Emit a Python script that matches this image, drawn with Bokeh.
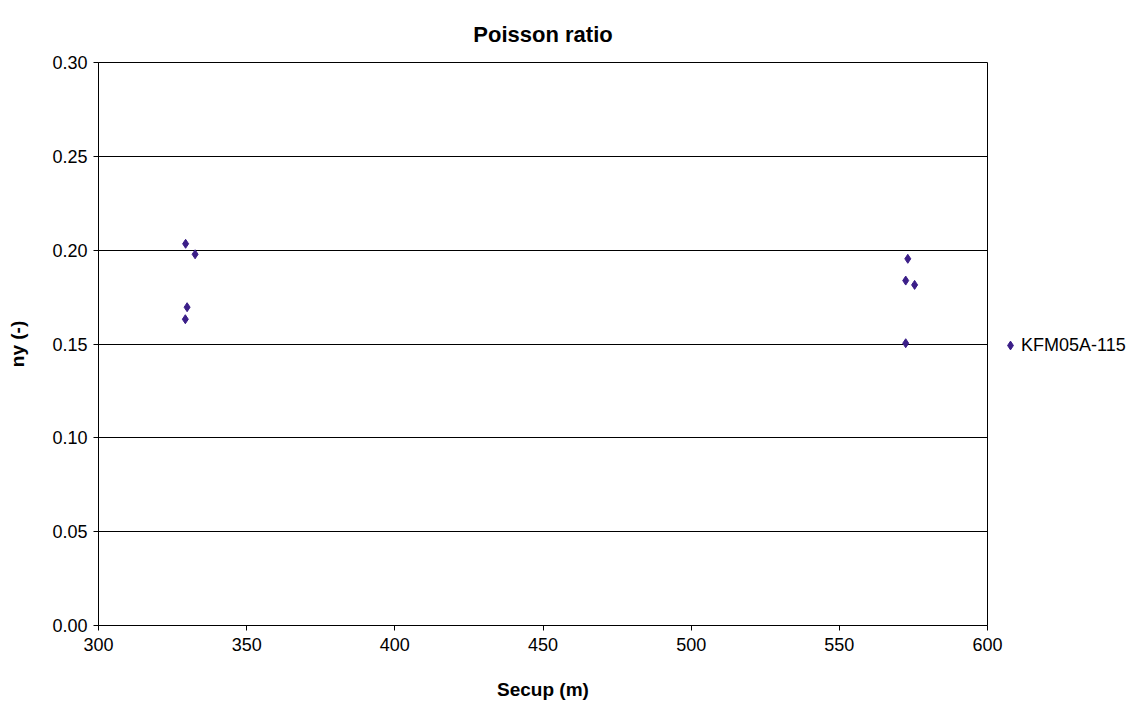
from bokeh.plotting import figure
from bokeh.models import Range1d, Legend, LegendItem, FixedTicker, NumeralTickFormatter, Title
from bokeh.embed import file_html
from bokeh.resources import INLINE

secup = [329.4, 332.6, 329.9, 329.3, 573.1, 572.4, 575.4, 572.4]
ny = [0.2034, 0.1978, 0.1696, 0.1632, 0.1954, 0.1838, 0.1815, 0.1504]
series_name = "KFM05A-115"
x_ticks = [300, 350, 400, 450, 500, 550, 600]
y_ticks = [0.0, 0.05, 0.10, 0.15, 0.20, 0.25, 0.30]

FONT = "Liberation Sans"
COLOR = "#3B1E88"

p = figure(frame_width=889, frame_height=563, output_backend="svg", toolbar_location=None,
           x_range=Range1d(300, 600), y_range=Range1d(0, 0.30),
           min_border_left=98, min_border_right=0, min_border_top=62, min_border_bottom=80)
p.title = Title(text="Poisson ratio", text_font=FONT, text_font_size="22px",
                text_font_style="bold", text_color="black", align="center",
                vertical_align="top", standoff=28)
p.outline_line_color = "black"
p.outline_line_width = 1

r = p.scatter(secup, ny, marker="diamond", size=9, color=COLOR)

for ax in (p.xaxis[0], p.yaxis[0]):
    ax.axis_line_color = "black"
    ax.major_tick_line_color = "black"
    ax.major_tick_in = 0
    ax.major_tick_out = 5
    ax.minor_tick_line_color = None
    ax.major_label_text_font = FONT
    ax.major_label_text_font_size = "18px"
    ax.major_label_text_color = "black"
    ax.axis_label_text_font = FONT
    ax.axis_label_text_font_size = "19px"
    ax.axis_label_text_font_style = "bold"
    ax.axis_label_text_color = "black"

p.xaxis[0].ticker = FixedTicker(ticks=x_ticks)
p.yaxis[0].ticker = FixedTicker(ticks=y_ticks)
p.yaxis[0].formatter = NumeralTickFormatter(format="0.00")
p.xaxis[0].major_label_standoff = 7
p.yaxis[0].major_label_standoff = 6
p.xaxis[0].axis_label = "Secup (m)"
p.yaxis[0].axis_label = "ny (-)"
p.xaxis[0].axis_label_standoff = 25
p.yaxis[0].axis_label_standoff = 21

p.xgrid.grid_line_color = None
p.ygrid.grid_line_color = "black"
p.ygrid.grid_line_width = 1

legend = Legend(items=[LegendItem(label=series_name, renderers=[r])],
                location=(12, 269), border_line_color=None, background_fill_alpha=0,
                label_text_font=FONT, label_text_font_size="18px", label_text_color="black",
                glyph_width=22, glyph_height=22, label_standoff=0, padding=0, margin=0)
p.add_layout(legend, "right")

open("out.html", "w").write(file_html(p, INLINE))
